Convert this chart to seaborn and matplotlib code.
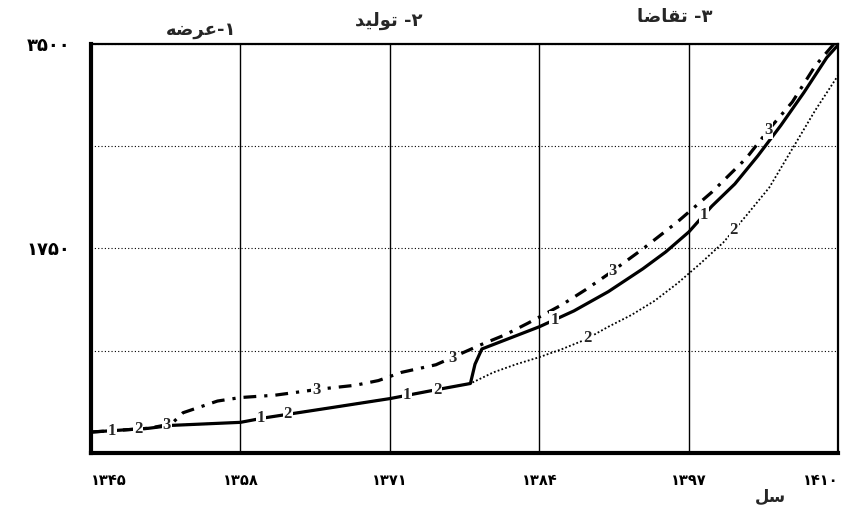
import numpy as np
import matplotlib
matplotlib.use("Agg")
import matplotlib.pyplot as plt
import seaborn as sns

# ---- data ----
years_supply = [1345, 1350, 1352, 1355, 1358, 1360, 1363, 1366, 1371, 1375, 1378, 1378.4, 1379,
                1384, 1387, 1390, 1393, 1395, 1397, 1399, 1401, 1403, 1405, 1407, 1409, 1410]
supply = [180, 212, 237, 250, 263, 300, 345, 390, 466, 541, 595, 760, 890,
          1080, 1215, 1380, 1575, 1720, 1890, 2110, 2300, 2540, 2800, 3080, 3380, 3490]

years_prod = [1345, 1350, 1352, 1355, 1358, 1360, 1363, 1366, 1371, 1375, 1378, 1380, 1382,
              1384, 1386, 1388, 1390, 1392, 1394, 1396, 1398, 1400, 1402, 1404, 1406, 1408, 1410]
production = [180, 212, 237, 250, 263, 300, 345, 390, 466, 541, 595, 690, 760,
              820, 890, 970, 1080, 1180, 1300, 1450, 1620, 1800, 2030, 2270, 2600, 2930, 3230]

years_dem = [1345, 1350, 1352, 1353, 1356, 1358, 1361, 1365, 1368, 1370, 1372, 1375, 1379,
             1381, 1383, 1386, 1388, 1390, 1393, 1396, 1399, 1402, 1404, 1406, 1408, 1410]
demand = [180, 212, 250, 345, 445, 475, 495, 548, 580, 620, 690, 755, 930,
          1010, 1110, 1270, 1395, 1530, 1745, 1975, 2230, 2520, 2770, 3000, 3310, 3540]

x_ticks = [1345, 1358, 1371, 1384, 1397, 1410]
x_tick_labels = ["۱۳۴۵", "۱۳۵۸", "۱۳۷۱", "۱۳۸۴", "۱۳۹۷", "۱۴۱۰"]
y_ticks = [1750, 3500]
y_tick_labels = ["۱۷۵۰", "۳۵۰۰"]
y_minor = [875, 2625]

# curve-number labels: years at which the numbers sit on each curve
label_years_supply = [1346.8, 1359.8, 1372.5, 1385.3, 1398.3]
label_years_prod = [1349.1, 1362.1, 1375.1, 1388.2, 1400.9]
label_years_dem = [1351.6, 1364.6, 1376.4, 1390.4, 1403.9]

# series names (Persian, pre-shaped in visual order for rendering)
name_supply = "\uFEEA\uFEBF\uFEAE\uFECB-\u06F1"          # ۱-عرضه
name_prod = "\uFEAA\uFBFF\uFEDF\uFEEE\uFE97 -\u06F2"      # ۲- تولید
name_dem = "\uFE8E\uFEBF\uFE8E\uFED8\uFE97 -\u06F3"       # ۳- تقاضا
x_label = "\uFEDE\uFEB3"                                  # سل

# ---- plotting ----
sns.set_style("white")
plt.rcParams['font.family'] = ['DejaVu Sans']

fig = plt.figure(figsize=(8.54, 5.12), dpi=100)
ax = fig.add_axes([0.1066, 0.115, 0.875, 0.80])

sns.lineplot(x=years_supply, y=supply, ax=ax, color="black", lw=2.3, estimator=None, sort=False)
sns.lineplot(x=years_prod, y=production, ax=ax, color="black", lw=1.3, estimator=None, sort=False,
             linestyle=(0, (1, 1.2)))
sns.lineplot(x=years_dem, y=demand, ax=ax, color="black", lw=2.3, estimator=None, sort=False,
             linestyle=(0, (4, 2.5, 1, 2.5)))

ax.set_xlim(1345, 1410)
ax.set_ylim(0, 3500)

ax.set_xticks(x_ticks)
ax.set_xticklabels(x_tick_labels, fontsize=10.5, fontweight="bold")
xt = ax.get_xticklabels()
xt[0].set_ha("left")
xt[-1].set_ha("right")
ax.set_yticks(y_ticks)
ax.set_yticklabels(y_tick_labels, fontsize=13, fontweight="bold")
ax.set_yticks(y_minor, minor=True)

ax.tick_params(axis="x", which="major", direction="out", length=5, width=2, pad=9, colors="black")
ax.tick_params(axis="y", which="major", direction="out", length=5, width=2, pad=10, colors="black")
ax.tick_params(axis="y", which="minor", length=0)

ax.grid(False)
ax.xaxis.grid(True, which="major", color="black", lw=1.0, linestyle="-")
ax.yaxis.grid(True, which="both", color="black", lw=0.8, linestyle=(0, (1, 2)))

for side in ["left", "bottom"]:
    ax.spines[side].set_linewidth(3.0)
    ax.spines[side].set_color("black")
for side in ["top", "right"]:
    ax.spines[side].set_linewidth(1.6)
    ax.spines[side].set_color("black")
    ax.spines[side].set_visible(True)

ax.set_xlabel("")
ax.set_ylabel("")

# curve number labels sitting on the curves
label_font = dict(fontsize=12, fontweight="bold", family="Liberation Serif",
                  ha="center", va="center",
                  bbox=dict(boxstyle="square,pad=0.05", fc="white", ec="none"))
for yrs, xs, ys, txt in [(label_years_supply, years_supply, supply, "1"),
                         (label_years_prod, years_prod, production, "2"),
                         (label_years_dem, years_dem, demand, "3")]:
    for yr in yrs:
        ax.text(yr, np.interp(yr, xs, ys), txt, zorder=5, **label_font)

# series names above the chart
fig.text(0.235, 0.942, name_supply, fontsize=13, fontweight="bold", ha="center", va="center")
fig.text(0.455, 0.960, name_prod, fontsize=13, fontweight="bold", ha="center", va="center")
fig.text(0.790, 0.967, name_dem, fontsize=13, fontweight="bold", ha="center", va="center")

# axis name
fig.text(0.902, 0.030, x_label, fontsize=12, fontweight="bold", ha="center", va="center")

fig.savefig("out.png", dpi=100)
